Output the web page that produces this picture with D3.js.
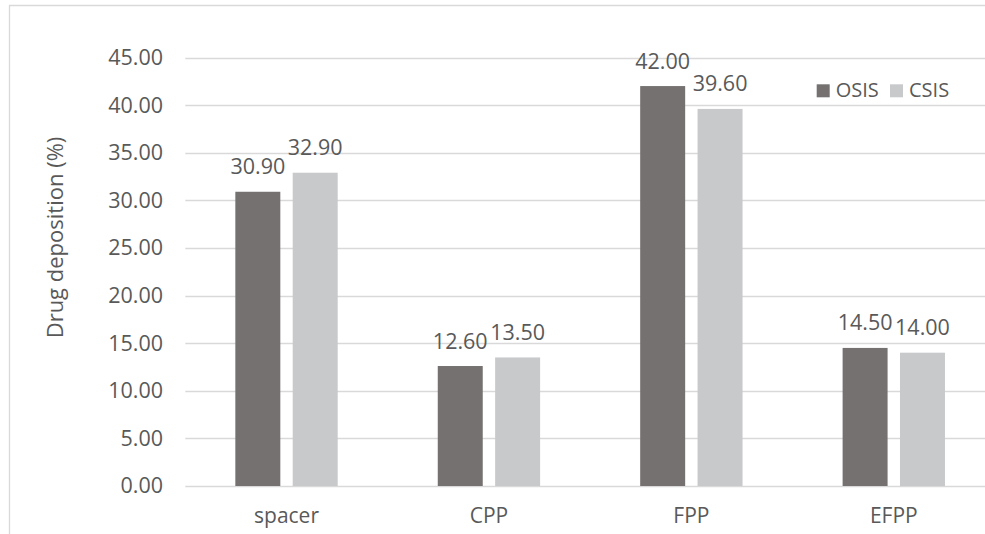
<!DOCTYPE html>
<html>
<head>
<meta charset="utf-8">
<script src="https://cdn.jsdelivr.net/npm/d3@7"></script>
<style>
  html, body { margin: 0; padding: 0; background: #fff; }
  svg { display: block; font-family: "Open Sans", "DejaVu Sans", sans-serif; }
</style>
</head>
<body>
<svg id="chart" width="985" height="534"></svg>
<script>
// Drug deposition by stage for the two inhaler setups
const categories = ["spacer", "CPP", "FPP", "EFPP"];
const seriesNames = ["OSIS", "CSIS"];
const osisValues = [30.90, 12.60, 42.00, 14.50];
const csisValues = [32.90, 13.50, 39.60, 14.00];
const yTicks = [0, 5, 10, 15, 20, 25, 30, 35, 40, 45];
const yTitle = "Drug deposition (%)";

const colors = { OSIS: "#767171", CSIS: "#C8C9CB" };
const textColor = "#595959";
const gridColor = "#D9D9D9";
const fontSize = 21.5;

const svg = d3.select("#chart");

// outer chart frame (runs off the right and bottom edges)
svg.append("path")
  .attr("d", "M9.5,540 V5.5 H990")
  .attr("fill", "none")
  .attr("stroke", gridColor)
  .attr("stroke-width", 1.3);

const plot = { left: 185.3, right: 995, top: 57.5, bottom: 486 };

const y = d3.scaleLinear().domain([0, 45]).range([plot.bottom, plot.top]);
const x = d3.scaleBand().domain(categories).range([plot.left, plot.right]);
const xSub = d3.scaleBand().domain(seriesNames)
  .range([0, x.bandwidth()])
  .paddingInner(0.216)
  .paddingOuter(0.872);

// horizontal gridlines
svg.append("g").selectAll("line")
  .data(yTicks)
  .join("line")
  .attr("x1", plot.left)
  .attr("x2", plot.right)
  .attr("y1", d => Math.round(y(d)) + 0.5)
  .attr("y2", d => Math.round(y(d)) + 0.5)
  .attr("stroke", gridColor)
  .attr("stroke-width", 1.3);

// y axis tick labels
const yAxis = d3.axisLeft(y).tickValues(yTicks).tickFormat(d3.format(".2f")).tickSize(0).tickPadding(0);
const yg = svg.append("g").attr("transform", "translate(163,0)").call(yAxis);
yg.select(".domain").remove();
yg.selectAll("text")
  .attr("fill", textColor)
  .attr("font-size", fontSize)
  .attr("font-family", "'Open Sans', sans-serif");

// x axis category labels
const xAxis = d3.axisBottom(x).tickSize(0).tickPadding(0);
const xg = svg.append("g").call(xAxis);
xg.select(".domain").remove();
xg.selectAll("text")
  .attr("y", 523)
  .attr("dy", 0)
  .attr("fill", textColor)
  .attr("font-size", 21)
  .attr("font-family", "'Open Sans', sans-serif");

// y axis title
svg.append("text")
  .attr("transform", "translate(63,237.5) rotate(-90)")
  .attr("text-anchor", "middle")
  .attr("fill", textColor)
  .attr("font-size", 22)
  .text(yTitle);

// bars
const rows = categories.map((c, i) => ({
  category: c,
  values: [
    { key: "OSIS", value: osisValues[i] },
    { key: "CSIS", value: csisValues[i] }
  ]
}));

const groups = svg.append("g").selectAll("g")
  .data(rows)
  .join("g")
  .attr("transform", d => `translate(${x(d.category)},0)`);

groups.selectAll("rect")
  .data(d => d.values)
  .join("rect")
  .attr("x", d => xSub(d.key))
  .attr("width", xSub.bandwidth())
  .attr("y", d => y(d.value))
  .attr("height", d => y(0) - y(d.value))
  .attr("fill", d => colors[d.key]);

// value labels
groups.selectAll("text.value")
  .data(d => d.values)
  .join("text")
  .attr("class", "value")
  .attr("x", d => xSub(d.key) + xSub.bandwidth() / 2)
  .attr("y", d => y(d.value) - 17.5)
  .attr("text-anchor", "middle")
  .attr("fill", textColor)
  .attr("font-size", fontSize)
  .text(d => d.value.toFixed(2));

// legend
const legend = svg.append("g");
const legendX = [816.7, 890];
seriesNames.forEach((name, i) => {
  legend.append("rect")
    .attr("x", legendX[i])
    .attr("y", 84.3)
    .attr("width", 13)
    .attr("height", 13)
    .attr("fill", colors[name]);
  legend.append("text")
    .attr("x", legendX[i] + 19)
    .attr("y", 97.3)
    .attr("fill", textColor)
    .attr("font-size", 20)
    .text(name);
});
</script>
</body>
</html>
